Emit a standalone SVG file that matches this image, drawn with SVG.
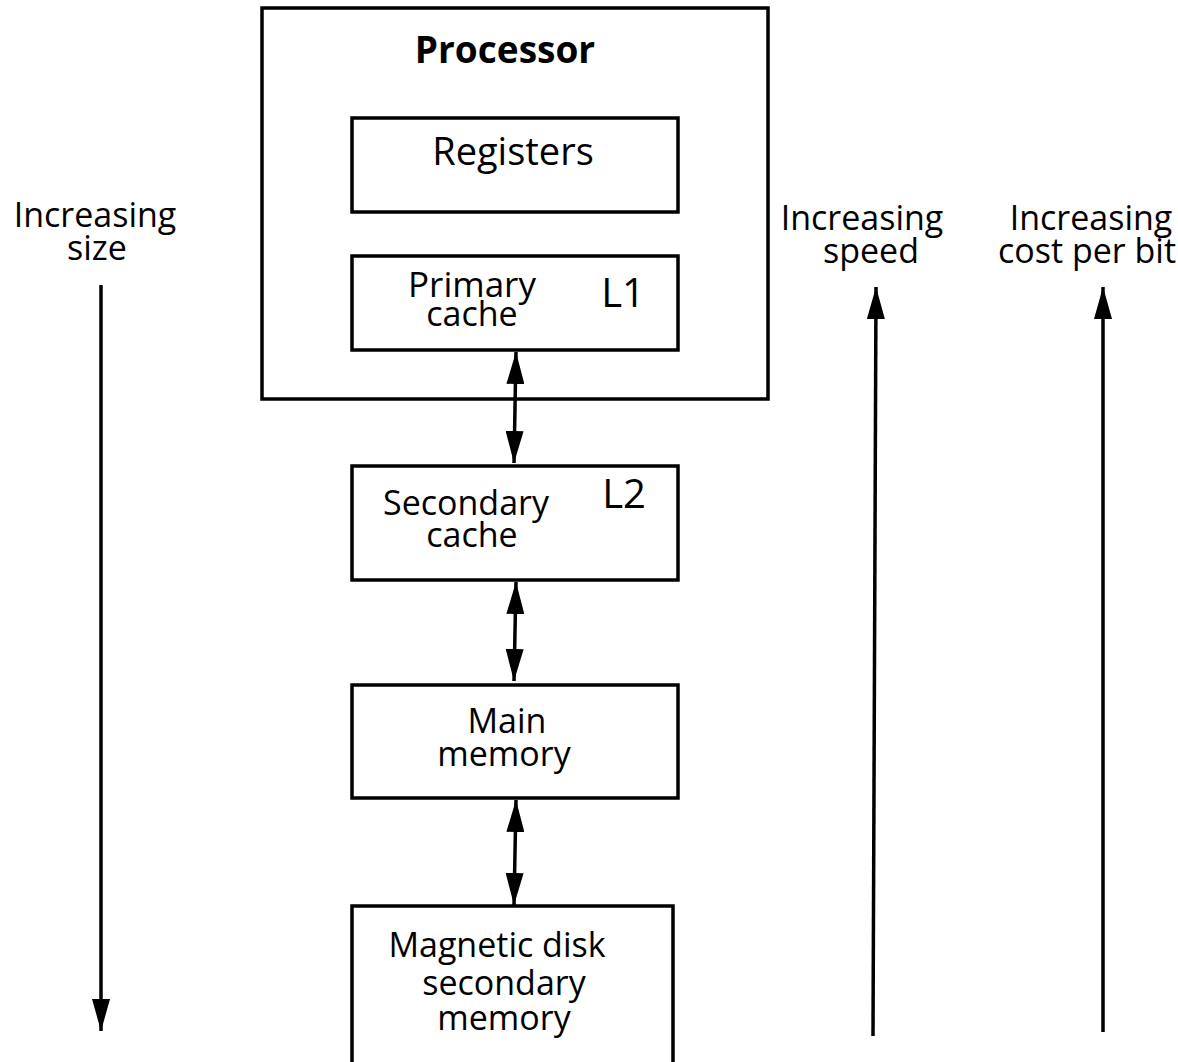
<svg xmlns="http://www.w3.org/2000/svg" width="1178" height="1062" viewBox="0 0 1178 1062">
<defs>
<style>
.box{fill:#fff;stroke:#000;stroke-width:3.5}
.t{font-family:"Open Sans","Liberation Sans",sans-serif;font-size:34px;fill:#000;text-anchor:middle}
.b{font-family:"Open Sans","Liberation Sans",sans-serif;font-size:37px;font-weight:bold;fill:#000;text-anchor:middle}
.ln{stroke:#000;stroke-width:3.5;fill:none}
</style>
<marker id="ah" viewBox="0 0 10 10" refX="10" refY="5" markerWidth="32" markerHeight="18" markerUnits="userSpaceOnUse" orient="auto-start-reverse" preserveAspectRatio="none">
<path d="M0,0 L10,5 L0,10 Z" fill="#000"/>
</marker>
</defs>
<rect width="1178" height="1062" fill="#fff"/>
<g id="processor">
<rect class="box" x="262" y="8" width="506" height="391"/>
<text class="b" x="505" y="63">Processor</text>
</g>
<g id="registers">
<rect class="box" x="352" y="118" width="326" height="94"/>
<text class="t" x="513" y="165" style="font-size:38px">Registers</text>
</g>
<g id="primary">
<rect class="box" x="352" y="256" width="326" height="94"/>
<text class="t" x="472" y="297" style="font-size:35px">Primary</text>
<text class="t" x="472" y="326">cache</text>
<text class="t" x="623" y="307" style="font-size:40px">L1</text>
</g>
<g id="secondary">
<rect class="box" x="352" y="466" width="326" height="114"/>
<text class="t" x="466" y="515">Secondary</text>
<text class="t" x="472" y="547">cache</text>
<text class="t" x="624" y="508" style="font-size:40px">L2</text>
</g>
<g id="main">
<rect class="box" x="352" y="685" width="326" height="113"/>
<text class="t" x="507" y="733">Main</text>
<text class="t" x="504" y="766">memory</text>
</g>
<g id="disk">
<rect class="box" x="352" y="906" width="321" height="170"/>
<text class="t" x="497" y="957">Magnetic disk</text>
<text class="t" x="504" y="995">secondary</text>
<text class="t" x="504" y="1030">memory</text>
</g>
<g id="labels">
<text class="t" x="95" y="227">Increasing</text>
<text class="t" x="97" y="260">size</text>
<text class="t" x="862" y="230">Increasing</text>
<text class="t" x="871" y="263">speed</text>
<text class="t" x="1091" y="230">Increasing</text>
<text class="t" x="1087" y="263">cost per bit</text>
</g>
<g id="connectors">
<line class="ln" x1="516" y1="352" x2="514" y2="463" marker-start="url(#ah)" marker-end="url(#ah)"/>
<line class="ln" x1="516" y1="582" x2="514" y2="681" marker-start="url(#ah)" marker-end="url(#ah)"/>
<line class="ln" x1="516" y1="800" x2="514" y2="905" marker-start="url(#ah)" marker-end="url(#ah)"/>
<line class="ln" x1="101" y1="285" x2="101" y2="1031" marker-end="url(#ah)"/>
<line class="ln" x1="873" y1="1036" x2="876" y2="287" marker-end="url(#ah)"/>
<line class="ln" x1="1103" y1="1032" x2="1103" y2="287" marker-end="url(#ah)"/>
</g>
</svg>
